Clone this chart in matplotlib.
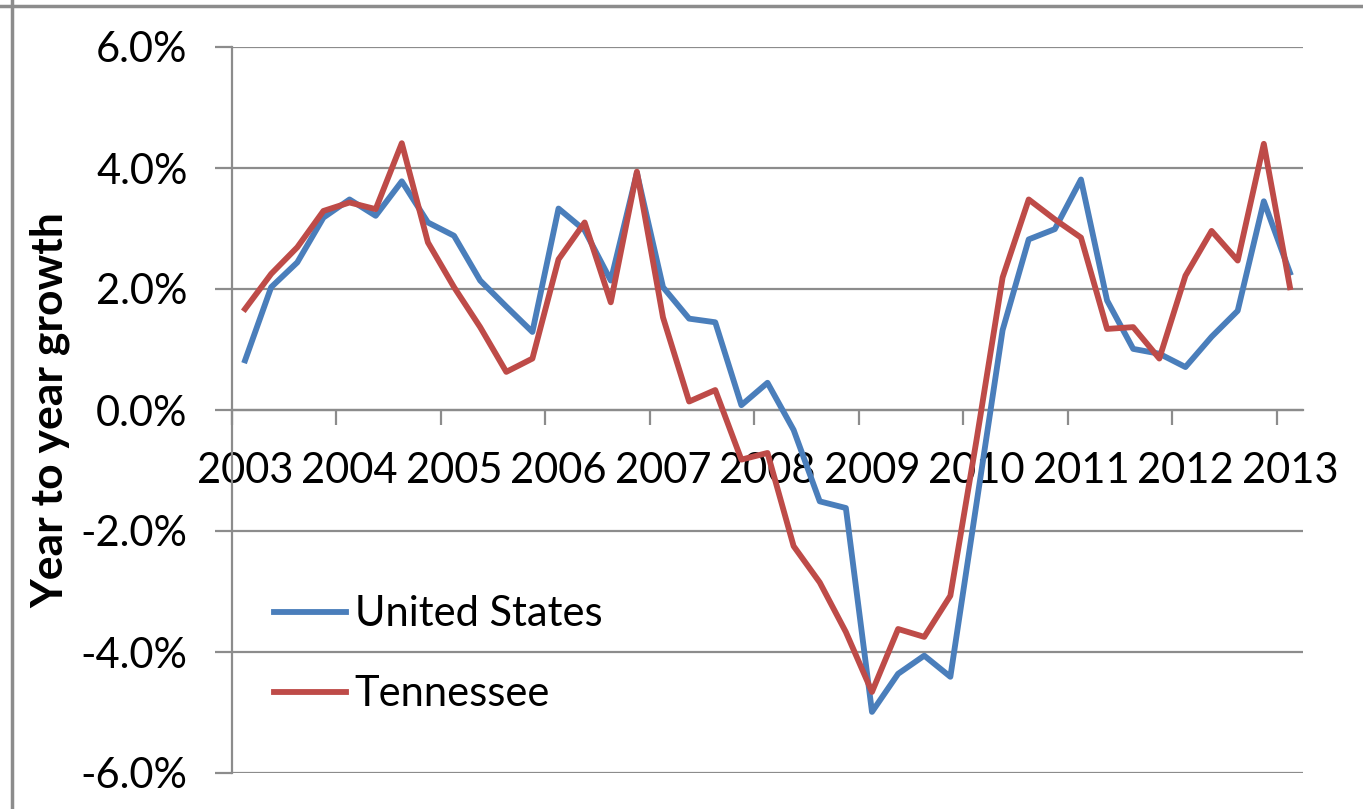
import numpy as np
import matplotlib.pyplot as plt
from matplotlib.lines import Line2D
from matplotlib.ticker import FuncFormatter

# quarterly year-to-year growth, 2003 Q1 .. 2013 Q1 (percent)
years = ["2003", "2004", "2005", "2006", "2007", "2008",
         "2009", "2010", "2011", "2012", "2013"]
us = [0.82, 2.03, 2.44, 3.18, 3.48, 3.21, 3.78, 3.10, 2.88, 2.14, 1.71,
      1.29, 3.33, 2.97, 2.14, 3.92, 2.03, 1.51, 1.45, 0.08, 0.45, -0.33,
      -1.51, -1.62, -4.99, -4.36, -4.06, -4.41, -1.55, 1.32, 2.82, 2.99,
      3.81, 1.81, 1.01, 0.93, 0.71, 1.21, 1.64, 3.45, 2.27]
tn = [1.67, 2.25, 2.69, 3.29, 3.43, 3.32, 4.41, 2.77, 2.03, 1.37, 0.63,
      0.85, 2.49, 3.10, 1.78, 3.94, 1.53, 0.14, 0.33, -0.82, -0.71, -2.25,
      -2.85, -3.67, -4.66, -3.62, -3.75, -3.07, -0.50, 2.19, 3.48, 3.15,
      2.85, 1.34, 1.37, 0.85, 2.22, 2.96, 2.47, 4.40, 2.03]
y_ticks = [-6, -4, -2, 0, 2, 4, 6]

plt.rcParams['font.family'] = ['Lato', 'DejaVu Sans']
FS = 30
GRAY = '#8c8c8c'
BLUE = '#4a7ebb'
RED = '#be4b48'

fig = plt.figure(figsize=(13.63, 8.09), dpi=100)
ax = fig.add_axes([232 / 1363, 1 - 773 / 809, (1303 - 232) / 1363, (773 - 47) / 809])

x = np.arange(len(us))
ax.plot(x, us, color=BLUE, lw=4.2, zorder=3, label='United States')
ax.plot(x, tn, color=RED, lw=4.2, zorder=3, label='Tennessee')

ax.set_xlim(-0.5, len(us) - 0.5)
ax.set_ylim(-6, 6)
ax.set_yticks(y_ticks)
ax.yaxis.set_major_formatter(FuncFormatter(lambda v, p: f"{v:.1f}%"))
ax.grid(axis='y', color=GRAY, lw=1.6)
ax.set_axisbelow(True)

for s in ['top', 'right']:
    ax.spines[s].set_visible(False)
ax.spines['left'].set_color(GRAY)
ax.spines['left'].set_linewidth(1.6)
ax.spines['bottom'].set_position(('data', 0))
ax.spines['bottom'].set_color(GRAY)
ax.spines['bottom'].set_linewidth(1.6)

ax.set_xticks(np.arange(0, len(us), 4))
ax.set_xticklabels(years)
ax.set_xticks(np.arange(-0.5, len(us) - 1, 4), minor=True)
ax.tick_params(axis='x', which='major', length=0, pad=30, labelsize=FS)
ax.tick_params(axis='x', which='minor', length=11, width=1.6, color=GRAY, direction='out')
ax.tick_params(axis='y', length=12, width=1.6, color=GRAY, pad=20, labelsize=FS)

fig.text(50 / 1363, 1 - 410 / 809, "Year to year growth", rotation=90,
         ha='center', va='center', fontsize=32, fontweight='bold')

fig.legend(loc='upper left', bbox_to_anchor=(236 / 1363, 1 - 558 / 809),
           frameon=False, fontsize=FS, handlelength=1.75, handletextpad=0.2,
           labelspacing=1.0)

# screenshot frame
fig.add_artist(Line2D([12 / 1363, 12 / 1363], [0, 1], color=GRAY, lw=2.5))
fig.add_artist(Line2D([0, 1], [1 - 6 / 809, 1 - 6 / 809], color=GRAY, lw=2.5))

fig.savefig("out.png", dpi=100)
